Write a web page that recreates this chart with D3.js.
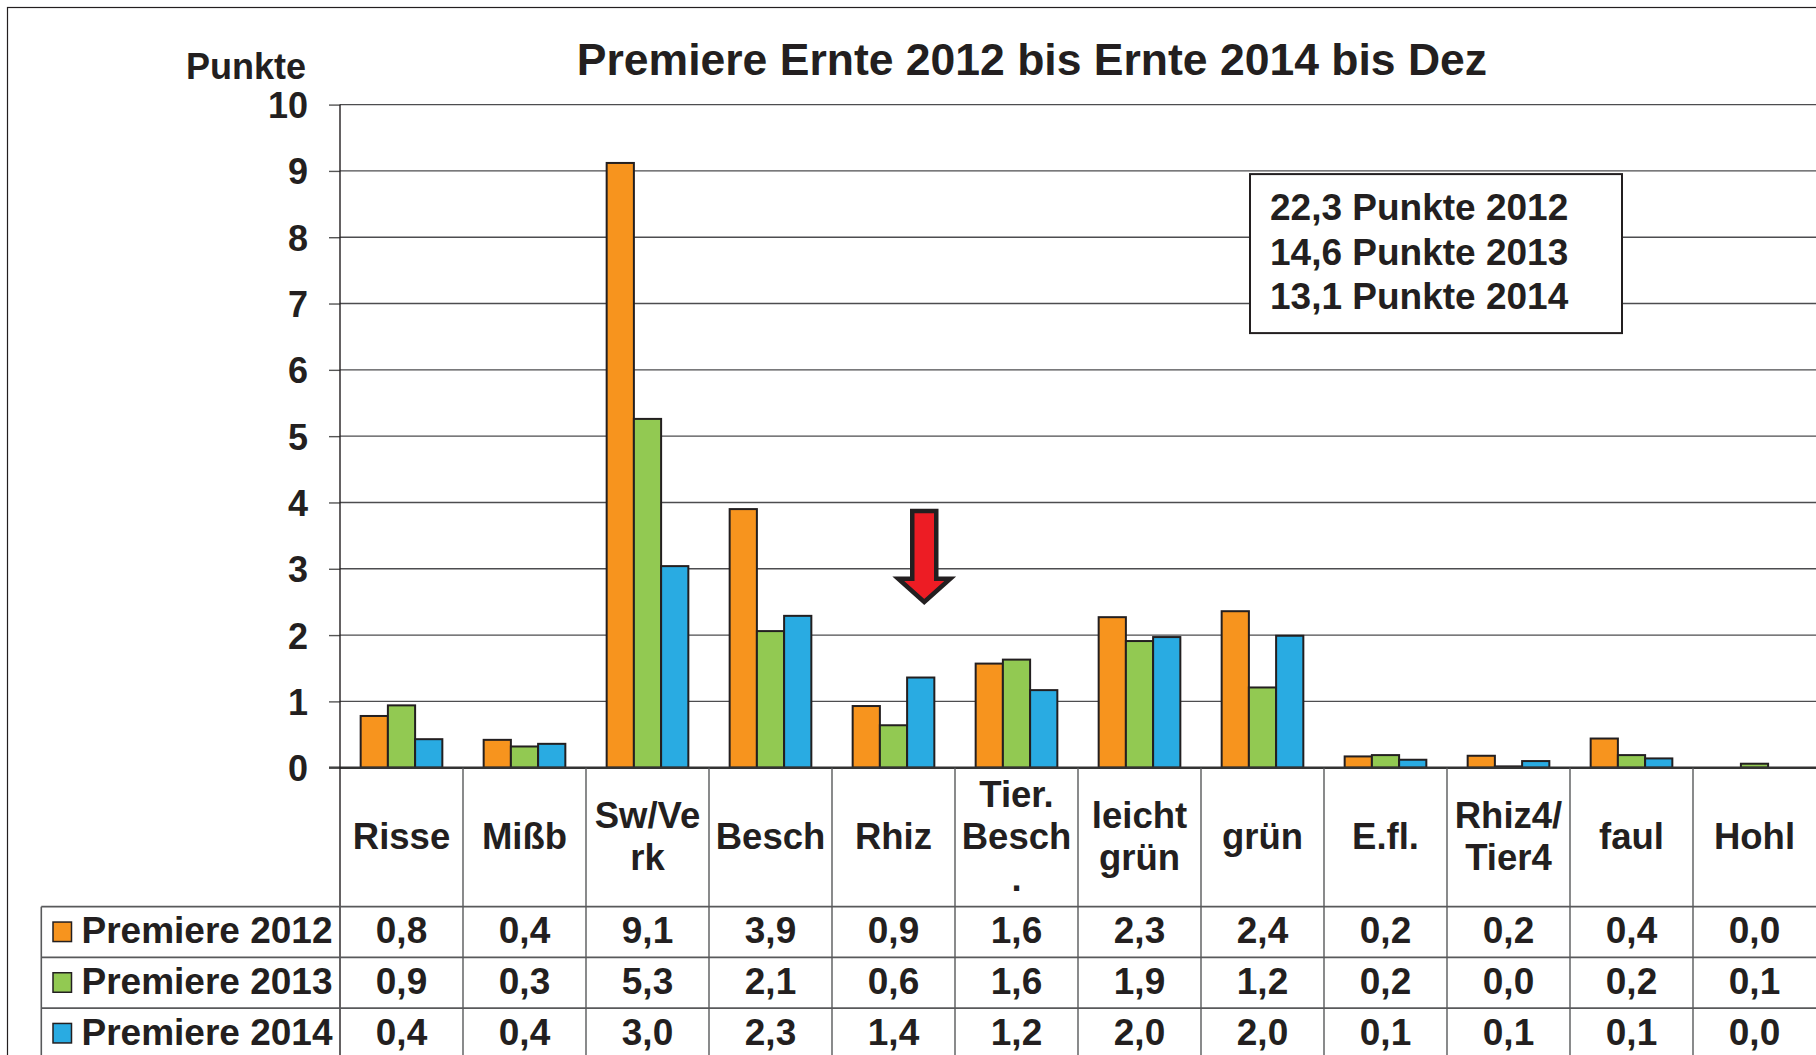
<!DOCTYPE html>
<html>
<head>
<meta charset="utf-8">
<script src="https://cdn.jsdelivr.net/npm/d3@7"></script>
<style>
  html, body { margin: 0; padding: 0; background: #fff; }
  svg { display: block; }
  text { font-family: "Liberation Sans", Arial, sans-serif; font-weight: bold; fill: #231f20; }
</style>
</head>
<body>
<svg id="chart"></svg>
<script>
// categories (column heads, split as in the original table)
const categories = ["Risse", "Mißb", "Sw/Verk", "Besch", "Rhiz", "Tier. Besch.",
  "leicht grün", "grün", "E.fl.", "Rhiz4/Tier4", "faul", "Hohl"];
const headerLines = [["Risse"], ["Mißb"], ["Sw/Ve", "rk"], ["Besch"], ["Rhiz"],
  ["Tier.", "Besch", "."], ["leicht", "grün"], ["grün"], ["E.fl."],
  ["Rhiz4/", "Tier4"], ["faul"], ["Hohl"]];

// series
const series = ["Premiere 2012", "Premiere 2013", "Premiere 2014"];
const values2012 = [0.78, 0.42, 9.12, 3.90, 0.93, 1.57, 2.27, 2.36, 0.17, 0.18, 0.44, 0.0];
const values2013 = [0.94, 0.32, 5.26, 2.06, 0.64, 1.63, 1.91, 1.21, 0.19, 0.02, 0.19, 0.06];
const values2014 = [0.43, 0.36, 3.04, 2.29, 1.36, 1.17, 1.97, 1.99, 0.12, 0.10, 0.14, 0.0];
const colors = ["#f7941e", "#92c952", "#29abe2"];

// y ticks and the totals box
const yTicks = [0, 1, 2, 3, 4, 5, 6, 7, 8, 9, 10];
const totals = ["22,3 Punkte 2012", "14,6 Punkte 2013", "13,1 Punkte 2014"];
const title = "Premiere Ernte 2012 bis Ernte 2014 bis Dez";
const yLabel = "Punkte";

const width = 1816;
const height = 1055;
const margin = { top: 104.6, left: 340, right: 0, bottom: 767.7 };
const headerBottom = 906.7;
const rowHeight = 50.7;
const ink = "#231f20";

const svg = d3.select("#chart").attr("width", width).attr("height", height);

const valuesBySeries = [values2012, values2013, values2014];
const data = categories.map((c, i) => ({
  category: c,
  values: series.map((s, j) => ({ key: s, value: valuesBySeries[j][i], color: colors[j] })),
}));

// scales
const x0 = d3.scaleBand().domain(categories).range([margin.left, width - margin.right]).padding(0);
const bw = x0.bandwidth();
const x1 = d3.scaleBand().domain(series).range([bw * 0.168, bw * 0.832]).padding(0);
const y = d3.scaleLinear().domain([0, 10]).range([margin.bottom, margin.top]);

// outer frame
svg.append("rect")
  .attr("x", 7.5).attr("y", 7.5)
  .attr("width", width + 20).attr("height", height + 20)
  .attr("fill", "none").attr("stroke", ink).attr("stroke-width", 1.2);

// title
svg.append("text")
  .attr("x", 1032).attr("y", 75)
  .attr("text-anchor", "middle")
  .attr("font-size", 44.5)
  .text(title);

// gridlines
svg.append("g")
  .selectAll("line")
  .data(yTicks.filter((d) => d > 0))
  .join("line")
  .attr("x1", margin.left).attr("x2", width)
  .attr("y1", (d) => y(d)).attr("y2", (d) => y(d))
  .attr("stroke", "#4d4d4f").attr("stroke-width", 1.4);

// totals box
const box = svg.append("g");
box.append("rect")
  .attr("x", 1250).attr("y", y(10) + 69.5)
  .attr("width", 372).attr("height", 159)
  .attr("fill", "#fff").attr("stroke", ink).attr("stroke-width", 2);
box.selectAll("text")
  .data(totals)
  .join("text")
  .attr("x", 1270)
  .attr("y", (d, i) => 220 + i * 44.7)
  .attr("font-size", 37)
  .text((d) => d);

// bars
svg.append("g")
  .selectAll("g")
  .data(data)
  .join("g")
  .attr("transform", (d) => `translate(${x0(d.category)},0)`)
  .selectAll("rect")
  .data((d) => d.values.filter((v) => v.value > 0))
  .join("rect")
  .attr("x", (d) => x1(d.key))
  .attr("width", x1.bandwidth())
  .attr("y", (d) => y(d.value))
  .attr("height", (d) => y(0) - y(d.value))
  .attr("fill", (d) => d.color)
  .attr("stroke", ink)
  .attr("stroke-width", 2);

// zero line
svg.append("line")
  .attr("x1", margin.left - 11).attr("x2", width)
  .attr("y1", y(0)).attr("y2", y(0))
  .attr("stroke", "#333").attr("stroke-width", 2.4);

// y axis
const yAxis = svg.append("g")
  .attr("transform", `translate(${margin.left},0)`)
  .call(d3.axisLeft(y).tickValues(yTicks).tickSize(11).tickPadding(21).tickSizeOuter(0));
yAxis.select(".domain").remove();
yAxis.selectAll(".tick line").attr("stroke", "#555").attr("stroke-width", 1.4);
yAxis.selectAll(".tick text")
  .attr("font-family", "\"Liberation Sans\", Arial, sans-serif")
  .attr("font-weight", "bold")
  .attr("font-size", 36)
  .attr("fill", ink)
  .attr("dy", "0.36em");
svg.append("line")
  .attr("x1", margin.left).attr("x2", margin.left)
  .attr("y1", y(10)).attr("y2", height)
  .attr("stroke", ink).attr("stroke-width", 1.4);

svg.append("text")
  .attr("x", 306).attr("y", 79)
  .attr("text-anchor", "end")
  .attr("font-size", 36)
  .text(yLabel);

// red arrow pointing down into the Rhiz column
const ax = x0("Rhiz") + bw * 0.75;
const arrow = d3.path();
arrow.moveTo(ax - 12, y(3.87));
arrow.lineTo(ax + 12, y(3.87));
arrow.lineTo(ax + 12, y(2.85));
arrow.lineTo(ax + 26, y(2.85));
arrow.lineTo(ax, y(2.5));
arrow.lineTo(ax - 26, y(2.85));
arrow.lineTo(ax - 12, y(2.85));
arrow.closePath();
svg.append("path")
  .attr("d", arrow.toString())
  .attr("fill", "#ed1c24")
  .attr("stroke", ink)
  .attr("stroke-width", 4.5)
  .attr("stroke-linejoin", "miter");

// data table below the chart
const table = svg.append("g");
const tableLeft = 41.3;

// column separators
table.selectAll("line.col")
  .data(categories.slice(1))
  .join("line")
  .attr("class", "col")
  .attr("x1", (d) => x0(d)).attr("x2", (d) => x0(d))
  .attr("y1", y(0)).attr("y2", height)
  .attr("stroke", "#58595b").attr("stroke-width", 1.4);

// row lines
table.selectAll("line.row")
  .data(series)
  .join("line")
  .attr("class", "row")
  .attr("x1", tableLeft).attr("x2", width)
  .attr("y1", (d, i) => headerBottom + i * rowHeight)
  .attr("y2", (d, i) => headerBottom + i * rowHeight)
  .attr("stroke", "#58595b").attr("stroke-width", 1.8);
table.append("line")
  .attr("x1", tableLeft).attr("x2", tableLeft)
  .attr("y1", headerBottom).attr("y2", height)
  .attr("stroke", "#58595b").attr("stroke-width", 1.6);

// column heads
table.selectAll("text.head")
  .data(d3.zip(categories, headerLines))
  .join("text")
  .attr("class", "head")
  .attr("text-anchor", "middle")
  .attr("font-size", 36.5)
  .selectAll("tspan")
  .data(([c, lines]) => lines.map((l, i) => ({ c, l, i, n: lines.length })))
  .join("tspan")
  .attr("x", (d) => x0(d.c) + bw / 2)
  .attr("y", (d) => 849 + (d.i - (d.n - 1) / 2) * 42.3)
  .text((d) => d.l);

// legend cells
const fmt = (v) => d3.format(".1f")(v).replace(".", ",");
const rows = table.selectAll("g.datarow")
  .data(series)
  .join("g")
  .attr("class", "datarow")
  .attr("transform", (d, i) => `translate(0,${headerBottom + i * rowHeight})`);

rows.append("rect")
  .attr("x", 53).attr("y", rowHeight / 2 - 10)
  .attr("width", 18.5).attr("height", 19.5)
  .attr("fill", (d, i) => colors[i])
  .attr("stroke", ink).attr("stroke-width", 1.5);

rows.append("text")
  .attr("x", 81.5).attr("y", 36.6)
  .attr("font-size", 37)
  .text((d) => d);

rows.selectAll("text.val")
  .data((d, i) => valuesBySeries[i].map((v, k) => ({ v, c: categories[k] })))
  .join("text")
  .attr("class", "val")
  .attr("x", (d) => x0(d.c) + bw / 2)
  .attr("y", 36.6)
  .attr("text-anchor", "middle")
  .attr("font-size", 37)
  .text((d) => fmt(d.v));
</script>
</body>
</html>
